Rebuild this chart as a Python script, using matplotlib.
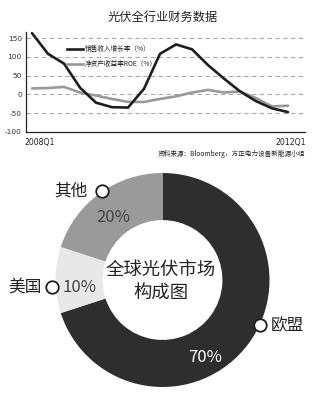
import matplotlib
matplotlib.use("Agg")
import matplotlib.pyplot as plt

plt.rcParams['font.family'] = ['Noto Sans CJK SC', 'DejaVu Sans']

# ---- data ----
quarters = list(range(17))  # 2008Q1 .. 2012Q1
x_labels = ["2008Q1", "2012Q1"]
sales_growth = [163, 108, 82, 18, -22, -34, -35, 15, 108, 133, 120, 78, 42, 8, -18, -37, -47]
roe = [16, 17, 20, 5, -3, -12, -20, -20, -12, -5, 5, 12, 5, 8, -10, -32, -30]
series_names = ["销售收入增长率（%）", "净资产收益率ROE（%）"]
y_ticks = [150, 100, 50, 0, -50, -100]

pie_labels = ["欧盟", "美国", "其他"]
pie_values = [70, 10, 20]
pie_colors = ["#2e2e2e", "#e8e8e8", "#9a9a9a"]

W, H = 312, 393
fig = plt.figure(figsize=(W / 100, H / 100), dpi=100)
fig.patch.set_facecolor("white")

def px(x, y):
    return x / W, 1 - y / H

# ---- line chart ----
left, right = 26, 305
top, bottom = 32.4, 132
ax = fig.add_axes([left / W, 1 - bottom / H, (right - left) / W, (bottom - top) / H])
ax.plot(quarters, roe, color="#999999", lw=1.9, solid_capstyle="round", solid_joinstyle="round")
ax.plot(quarters, sales_growth, color="#1e1e1e", lw=1.9, solid_capstyle="round", solid_joinstyle="round")
ax.set_xlim(-0.375, 17.06)
ax.set_ylim(-100, 165)
for v in y_ticks[:-1]:
    ax.axhline(v, color="#aaaaaa", lw=0.8, ls=(0, (4, 3)), zorder=0)
ax.set_yticks(y_ticks)
ax.set_yticklabels([str(v) for v in y_ticks], fontsize=5.3, color="#333333", family="DejaVu Sans")
ax.tick_params(axis="y", length=0, pad=3)
ax.set_xticks([])
for s in ["top", "right"]:
    ax.spines[s].set_visible(False)
ax.spines["left"].set_color("#222222")
ax.spines["bottom"].set_color("#222222")
ax.spines["left"].set_linewidth(0.9)
ax.spines["bottom"].set_linewidth(0.9)
ax.set_facecolor("none")

fig.text(*px(40, 142), x_labels[0], fontsize=5.6, ha="center", va="center", color="#222222", family="DejaVu Sans")
fig.text(*px(291, 142), x_labels[1], fontsize=5.6, ha="center", va="center", color="#222222", family="DejaVu Sans")

# legend
fig.add_artist(plt.Line2D([67 / W, 83 / W], [1 - 49 / H, 1 - 49 / H], color="#1e1e1e", lw=1.9))
fig.add_artist(plt.Line2D([67 / W, 83 / W], [1 - 64 / H, 1 - 64 / H], color="#999999", lw=1.9))
fig.text(*px(85, 49), series_names[0], fontsize=4.8, ha="left", va="center", color="#222222")
fig.text(*px(85, 64), series_names[1], fontsize=4.8, ha="left", va="center", color="#222222")

# title and source
fig.text(*px(163, 17), "光伏全行业财务数据", fontsize=8.8, ha="center", va="center", color="#222222")
fig.text(*px(305, 154), "资料来源：Bloomberg，方正电力设备新能源小组", fontsize=4.8, ha="right", va="center", color="#222222")

# ---- donut ----
cx, cy, r = 162.5, 280, 107
pax = fig.add_axes([(cx - r) / W, 1 - (cy + r) / H, 2 * r / W, 2 * r / H])
pax.pie(pie_values, colors=pie_colors, startangle=90, counterclock=False,
        radius=1.0, wedgeprops=dict(width=0.44, edgecolor="none"))
pax.set_xlim(-1, 1)
pax.set_ylim(-1, 1)
pax.set_aspect("auto")
pax.axis("off")

def ring_marker(x, y):
    fx, fy = px(x, y)
    fig.add_artist(plt.Line2D([fx], [fy], marker="o", markersize=9, markerfacecolor="white",
                              markeredgecolor="#1e1e1e", markeredgewidth=1.3, linestyle="none"))

fs = 12
fig.text(*px(71, 191), pie_labels[2], fontsize=fs, ha="center", va="center", color="#222222")
ring_marker(102, 191)
fig.text(*px(113, 217), f"{pie_values[2]}%", fontsize=fs, ha="center", va="center", color="#444444")
fig.text(*px(25, 287), pie_labels[1], fontsize=fs, ha="center", va="center", color="#222222")
ring_marker(52, 287)
fig.text(*px(80, 287), f"{pie_values[1]}%", fontsize=fs, ha="center", va="center", color="#444444")
ring_marker(260, 325)
fig.text(*px(287, 326), pie_labels[0], fontsize=fs, ha="center", va="center", color="#222222")
fig.text(*px(205, 358), f"{pie_values[0]}%", fontsize=fs, ha="center", va="center", color="white")

fig.text(*px(161, 270), "全球光伏市场", fontsize=13.2, ha="center", va="center", color="#222222")
fig.text(*px(161, 294), "构成图", fontsize=13.2, ha="center", va="center", color="#222222")

fig.savefig("out.png", dpi=100)
